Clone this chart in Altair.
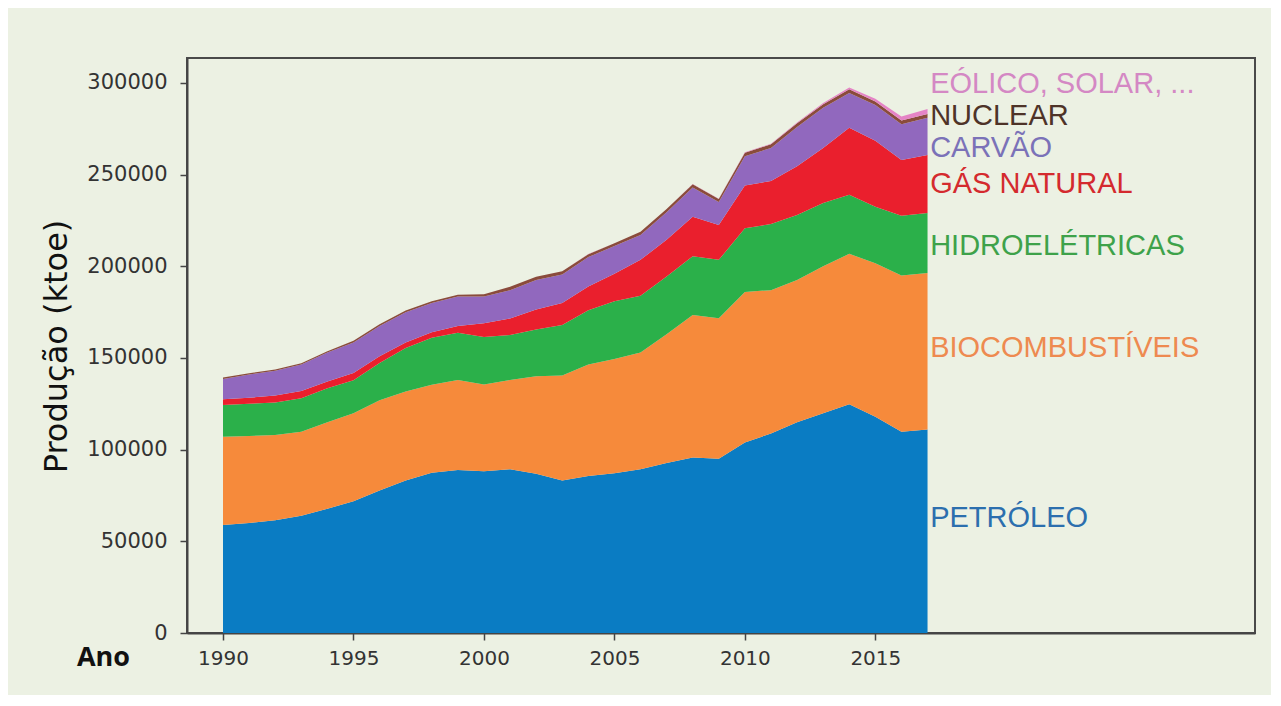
import altair as alt
import pandas as pd

years = list(range(1990, 2018))

# Production by source (ktoe)
petroleo = [58900, 60000, 61500, 64000, 67700, 71900, 77700, 83200, 87400, 88900,
            88200, 89300, 86900, 83200, 85600, 87100, 89300, 92700, 95700, 95100,
            103900, 108800, 114900, 119800, 124700, 118000, 109700, 111000]
biocomb = [48100, 47400, 46500, 45700, 47300, 47900, 49300, 48500, 48000, 49100,
           47300, 48700, 53100, 57300, 60900, 62400, 63700, 70300, 77800, 76600,
           82100, 78200, 77600, 80200, 82100, 83700, 85300, 85300]
hidro = [17400, 17600, 17700, 18300, 18500, 18000, 20200, 23800, 25600, 25700,
         26000, 24500, 25500, 27500, 29500, 31500, 31000, 31500, 32000, 31800,
         34700, 36000, 35500, 34500, 32200, 30800, 32500, 32700]
gas = [3100, 3300, 3800, 4000, 3700, 4000, 3800, 3000, 3000, 3800,
       7500, 9000, 11000, 12000, 13000, 15000, 19500, 20000, 21500, 19000,
       23300, 23500, 26500, 30000, 36500, 36000, 30500, 31700]
carvao = [11000, 12700, 13500, 14500, 15800, 16700, 16500, 16500, 16000, 16000,
          14500, 15500, 16000, 15500, 16000, 15000, 13500, 15000, 16000, 12500,
          16000, 18000, 21500, 22000, 19000, 19500, 19500, 20300]
nuclear = [800, 700, 700, 600, 600, 900, 900, 900, 1000, 1000,
           1300, 1800, 1800, 1800, 1600, 1500, 1800, 1700, 1800, 1700,
           1900, 2000, 2000, 1900, 2000, 1900, 2000, 2000]
eolico = [0, 0, 0, 0, 0, 0, 0, 0, 0, 0,
          0, 0, 0, 0, 50, 50, 100, 100, 100, 150,
          250, 300, 450, 600, 1000, 1500, 2200, 2800]

sources = ["PETRÓLEO", "BIOCOMBUSTÍVEIS", "HIDROELÉTRICAS", "GÁS NATURAL",
           "CARVÃO", "NUCLEAR", "EÓLICO, SOLAR, ..."]
series = [petroleo, biocomb, hidro, gas, carvao, nuclear, eolico]
area_colors = ["#0a7cc3", "#f68a3b", "#2bb04a", "#ea1f2d", "#9168be", "#8a4b3c", "#e584c6"]
label_colors = ["#2c6fae", "#ee8a50", "#3ea24a", "#d42a2e", "#7b72b8", "#4e3328", "#d488c4"]

# label anchors in data units (year, ktoe)
label_year = [2017.1] * 7
label_value = [57800, 150500, 206000, 240000, 259600, 277000, 294500]

x_ticks = [1990, 1995, 2000, 2005, 2010, 2015]
y_ticks = [0, 50000, 100000, 150000, 200000, 250000, 300000]

rows = []
for k, (name, vals) in enumerate(zip(sources, series)):
    for y, v in zip(years, vals):
        rows.append({"Ano": y, "valor": v, "fonte": name, "ordem": k})
df = pd.DataFrame(rows)

labels = pd.DataFrame({"Ano": label_year, "valor": label_value, "fonte": sources})

xscale = alt.Scale(domain=[1988.62, 2029.55], nice=False, zero=False)
yscale = alt.Scale(domain=[0, 313600], nice=False)

areas = alt.Chart(df).mark_area(interpolate="linear").encode(
    x=alt.X("Ano:Q", scale=xscale,
            axis=alt.Axis(values=x_ticks, format="d", title="Ano", grid=False,
                          tickSize=7, tickColor="#444", domainColor="#444",
                          domainWidth=2, tickWidth=1.5,
                          labelFont="DejaVu Sans", labelFontSize=20, labelColor="#333",
                          labelPadding=8,
                          titleFont="Open Sans", titleFontSize=27, titleFontWeight="bold",
                          titleColor="#111", titleX=-84, titleY=24,
                          titleAlign="center", titleBaseline="middle")),
    y=alt.Y("valor:Q", stack="zero", scale=yscale,
            axis=alt.Axis(values=y_ticks, format="d", title="Produção (ktoe)", grid=False,
                          tickSize=7, tickColor="#444", domainColor="#444",
                          domainWidth=2, tickWidth=1.5,
                          labelFont="DejaVu Sans", labelFontSize=21, labelColor="#333",
                          labelPadding=13,
                          titleFont="DejaVu Sans", titleFontSize=32, titleFontWeight="normal",
                          titleColor="#111", titleX=-131, titleY=288, titleAngle=270,
                          titleAlign="center", titleBaseline="middle")),
    color=alt.Color("fonte:N", scale=alt.Scale(domain=sources, range=area_colors), legend=None),
    order=alt.Order("ordem:Q", sort="ascending"),
)

texts = alt.Chart(labels).mark_text(align="left", baseline="alphabetic",
                                    font="Liberation Sans", fontSize=29).encode(
    x=alt.X("Ano:Q", scale=xscale),
    y=alt.Y("valor:Q", scale=yscale),
    color=alt.Color("fonte:N", scale=alt.Scale(domain=sources, range=label_colors), legend=None),
    text="fonte:N",
)

chart = alt.layer(areas, texts).resolve_scale(color="independent").properties(
    width=1068, height=575,
    background="#ecf1e3",
    padding={"left": 179, "top": 50, "right": 16, "bottom": 62},
    autosize=alt.AutoSizeParams(type="none"),
).configure_view(stroke="#4a4a4a", strokeWidth=2, fill="#ecf1e3")

chart.save("out.html", embed_options={"renderer": "svg", "actions": False})
